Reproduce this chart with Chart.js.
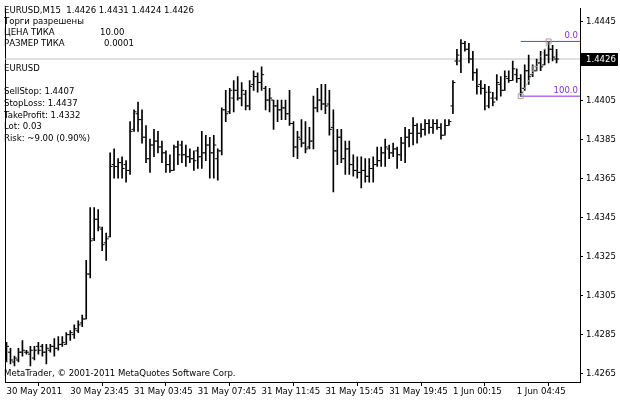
<!DOCTYPE html>
<html><head><meta charset="utf-8">
<script src="https://cdn.jsdelivr.net/npm/chart.js@4/dist/chart.umd.min.js"></script>
<style>html,body{margin:0;padding:0;background:#fff;}canvas{display:block;}</style>
</head><body>
<canvas id="c" width="620" height="400"></canvas>
<script>
// ---- data (EURUSD M15 OHLC bars, left to right) ----
const opens = [1.4275,1.4276,1.4271,1.4272,1.4276,1.4276,1.4275,1.4273,1.4279,1.4279,
1.4276,1.4277,1.4279,1.4278,1.4280,1.4280,1.4285,1.4285,1.4287,1.4291,
1.4293,1.4316,1.4334,1.4344,1.4339,1.4332,1.4335,1.4372,1.4371,1.4373,
1.4372,1.4369,1.4390,1.4398,1.4395,1.4386,1.4375,1.4382,1.4384,1.4381,
1.4378,1.4372,1.4369,1.4381,1.4382,1.4377,1.4376,1.4375,1.4379,1.4376,
1.4378,1.4382,1.4378,1.4375,1.4379,1.4400,1.4399,1.4406,1.4410,1.4406,
1.4408,1.4402,1.4413,1.4417,1.4414,1.4411,1.4405,1.4405,1.4402,1.4400,
1.4401,1.4398,1.4393,1.4381,1.4385,1.4383,1.4381,1.4384,1.4401,1.4405,
1.4403,1.4403,1.4391,1.4379,1.4386,1.4375,1.4380,1.4372,1.4369,1.4368,
1.4369,1.4366,1.4370,1.4372,1.4374,1.4378,1.4380,1.4378,1.4380,1.4377,
1.4383,1.4386,1.4388,1.4392,1.4388,1.4390,1.4393,1.4391,1.4393,1.4391,
1.4387,1.4392,1.4402,1.4425,1.4425,1.4434,1.4431,1.4426,1.4419,1.4413,
1.4411,1.4402,1.4406,1.4406,1.4413,1.4410,1.4416,1.4415,1.4418,1.4416,
1.4411,1.4420,1.4418,1.4420,1.4424,1.4423,1.4428,1.4431,1.4426];
const highs = [1.4281,1.4278,1.4274,1.4278,1.4282,1.4277,1.4279,1.4279,1.4281,1.4280,
1.4280,1.4280,1.4283,1.4284,1.4284,1.4286,1.4287,1.4290,1.4292,1.4295,
1.4323,1.4350,1.4350,1.4349,1.4340,1.4337,1.4378,1.4380,1.4375,1.4376,
1.4374,1.4394,1.4400,1.4404,1.4400,1.4392,1.4385,1.4390,1.4389,1.4384,
1.4379,1.4377,1.4382,1.4384,1.4384,1.4382,1.4380,1.4379,1.4381,1.4389,
1.4387,1.4386,1.4387,1.4380,1.4401,1.4410,1.4411,1.4415,1.4417,1.4414,
1.4410,1.4415,1.4420,1.4419,1.4422,1.4412,1.4411,1.4405,1.4405,1.4405,
1.4405,1.4410,1.4394,1.4389,1.4395,1.4394,1.4391,1.4407,1.4411,1.4413,
1.4413,1.4410,1.4400,1.4390,1.4390,1.4384,1.4384,1.4377,1.4376,1.4376,
1.4375,1.4375,1.4376,1.4381,1.4381,1.4385,1.4382,1.4383,1.4381,1.4386,
1.4391,1.4390,1.4396,1.4393,1.4393,1.4395,1.4395,1.4395,1.4395,1.4393,
1.4395,1.4395,1.4415,1.4431,1.4436,1.4435,1.4434,1.4430,1.4421,1.4415,
1.4413,1.4412,1.4409,1.4418,1.4417,1.4420,1.4420,1.4425,1.4421,1.4418,
1.4423,1.4428,1.4423,1.4426,1.4430,1.4431,1.4435,1.4433,1.4431];
const lows = [1.4271,1.4270,1.4269,1.4271,1.4274,1.4275,1.4269,1.4272,1.4275,1.4274,
1.4270,1.4276,1.4274,1.4277,1.4279,1.4280,1.4282,1.4283,1.4286,1.4289,
1.4293,1.4314,1.4333,1.4338,1.4328,1.4323,1.4335,1.4365,1.4365,1.4365,
1.4363,1.4367,1.4389,1.4389,1.4383,1.4373,1.4368,1.4376,1.4378,1.4373,
1.4368,1.4368,1.4369,1.4372,1.4373,1.4371,1.4373,1.4369,1.4370,1.4370,
1.4374,1.4365,1.4365,1.4364,1.4377,1.4394,1.4398,1.4399,1.4405,1.4402,
1.4400,1.4400,1.4410,1.4409,1.4410,1.4400,1.4399,1.4390,1.4394,1.4395,
1.4395,1.4392,1.4376,1.4375,1.4381,1.4378,1.4380,1.4380,1.4399,1.4400,
1.4398,1.4387,1.4358,1.4372,1.4373,1.4367,1.4367,1.4366,1.4365,1.4360,
1.4363,1.4363,1.4363,1.4371,1.4371,1.4371,1.4375,1.4376,1.4370,1.4374,
1.4373,1.4381,1.4382,1.4383,1.4386,1.4387,1.4388,1.4388,1.4390,1.4385,
1.4387,1.4392,1.4398,1.4423,1.4419,1.4430,1.4424,1.4415,1.4408,1.4408,
1.4400,1.4401,1.4402,1.4405,1.4407,1.4410,1.4414,1.4415,1.4414,1.4407,
1.4410,1.4413,1.4417,1.4420,1.4420,1.4423,1.4424,1.4425,1.4424];
const closes = [1.4279,1.4272,1.4273,1.4276,1.4277,1.4276,1.4277,1.4277,1.4277,1.4276,
1.4278,1.4279,1.4278,1.4280,1.4281,1.4285,1.4286,1.4288,1.4290,1.4293,
1.4316,1.4333,1.4344,1.4340,1.4331,1.4334,1.4371,1.4371,1.4373,1.4370,
1.4369,1.4389,1.4399,1.4395,1.4386,1.4375,1.4382,1.4384,1.4381,1.4378,
1.4372,1.4369,1.4381,1.4377,1.4377,1.4376,1.4375,1.4374,1.4376,1.4378,
1.4382,1.4378,1.4382,1.4379,1.4400,1.4398,1.4410,1.4410,1.4406,1.4410,
1.4402,1.4412,1.4417,1.4414,1.4418,1.4405,1.4406,1.4402,1.4400,1.4401,
1.4398,1.4393,1.4381,1.4386,1.4383,1.4380,1.4384,1.4401,1.4405,1.4403,
1.4402,1.4390,1.4379,1.4386,1.4375,1.4380,1.4372,1.4369,1.4368,1.4369,
1.4366,1.4370,1.4372,1.4374,1.4378,1.4381,1.4378,1.4380,1.4377,1.4383,
1.4386,1.4388,1.4392,1.4388,1.4390,1.4393,1.4391,1.4393,1.4391,1.4387,
1.4392,1.4394,1.4414,1.4428,1.4434,1.4431,1.4426,1.4419,1.4412,1.4411,
1.4409,1.4409,1.4404,1.4414,1.4410,1.4417,1.4415,1.4421,1.4416,1.4409,
1.4420,1.4417,1.4420,1.4424,1.4422,1.4428,1.4431,1.4427,1.4426];

const priceTicks = [1.4265,1.4285,1.4305,1.4325,1.4345,1.4365,1.4385,1.4405,1.4425,1.4445];
const timeTickIndex = [0,16,32,48,64,80,96,112,128];
const timeTickLabels = ['30 May 2011','30 May 23:45','31 May 03:45','31 May 07:45','31 May 11:45','31 May 15:45','31 May 19:45','1 Jun 00:15','1 Jun 04:45'];

const currentPrice = 1.4426;
const fibLevels = ['0.0','100.0'];
const fibPrices = [1.4435, 1.4407];
const fibIndex = [136, 129];

const headerLines = ['EURUSD,M15  1.4426 1.4431 1.4424 1.4426','Торги разрешены'];
const tickInfoNames = ['ЦЕНА ТИКА','РАЗМЕР ТИКА'];
const tickInfoValues = ['10.00','0.0001'];
const orderLines = ['SellStop: 1.4407','StopLoss: 1.4437','TakeProfit: 1.4332','Lot: 0.03','Risk: ~9.00 (0.90%)'];
const symbolName = 'EURUSD';
const copyright = 'MetaTrader, © 2001-2011 MetaQuotes Software Corp.';

// ---- chart ----
const FONT_FAMILY = '"DejaVu Sans Condensed", "DejaVu Sans", sans-serif';
const FONT_SIZE = 9.5;
const FONT = FONT_SIZE + 'px ' + FONT_FAMILY;

const rangeData = opens.map((o, i) => ({x: i, y: [lows[i], highs[i]]}));
const openData = opens.map((o, i) => ({x: i - 0.375, y: o}));
const closeData = closes.map((c, i) => ({x: i + 0.375, y: c}));

const textPlugin = {
  id: 'mtText',
  afterDraw(chart) {
    const ctx = chart.ctx, ys = chart.scales.y, a = chart.chartArea;
    ctx.save();
    ctx.font = FONT;
    ctx.textBaseline = 'middle';
    ctx.textAlign = 'left';
    ctx.fillStyle = '#000';
    ctx.fillText(headerLines[0], 4, 11);
    ctx.fillText(headerLines[1], 4, 22);
    ctx.fillText(tickInfoNames[0], 4, 33);
    ctx.fillText(tickInfoValues[0], 100, 33);
    ctx.fillText(tickInfoNames[1], 4, 44);
    ctx.fillText(tickInfoValues[1], 104, 44);
    ctx.fillText(symbolName, 4, 69);
    orderLines.forEach((t, i) => ctx.fillText(t, 4, 92 + i * 11.6));
    ctx.fillText(copyright, 4, 374);
    // current price box
    const py = Math.floor(ys.getPixelForValue(currentPrice));
    ctx.fillStyle = '#000';
    ctx.fillRect(a.right + 1, py - 6, 37, 13);
    ctx.fillStyle = '#fff';
    ctx.fillText(currentPrice.toFixed(4), a.right + 6, py + 0.5);
    // fib labels
    ctx.fillStyle = '#8a2be2';
    ctx.textAlign = 'right';
    fibLevels.forEach((t, i) => {
      ctx.fillText(t, a.right - 2, ys.getPixelForValue(fibPrices[i]) - 6);
    });
    ctx.restore();
  }
};

new Chart(document.getElementById('c'), {
  type: 'bar',
  data: {
    datasets: [
      { type: 'scatter', order: 0, yAxisID: 'y',
        data: [{x: fibIndex[1], y: fibPrices[1]}, {x: (fibIndex[0] + fibIndex[1]) / 2, y: (fibPrices[0] + fibPrices[1]) / 2}, {x: fibIndex[0], y: fibPrices[0]}],
        showLine: true, borderColor: '#b0b0b0', borderWidth: 1, borderDash: [2, 2],
        pointStyle: 'rect', pointRadius: 3.5, pointBorderColor: '#a0a0a0', pointBackgroundColor: 'rgba(0,0,0,0)', pointBorderWidth: 1 },
      { type: 'scatter', order: 1, yAxisID: 'y', data: openData,
        pointStyle: 'line', pointRadius: 1, pointBorderWidth: 1, borderColor: '#000', backgroundColor: '#000' },
      { type: 'scatter', order: 1, yAxisID: 'y', data: closeData,
        pointStyle: 'line', pointRadius: 1, pointBorderWidth: 1, borderColor: '#000', backgroundColor: '#000' },
      { type: 'bar', order: 2, yAxisID: 'y', data: rangeData,
        backgroundColor: '#000', borderWidth: 0, barThickness: 1 },
      { type: 'line', order: 3, yAxisID: 'y',
        data: [{x: fibIndex[1], y: fibPrices[0]}, {x: 200, y: fibPrices[0]}],
        borderColor: '#8a2be2', borderWidth: 1, pointRadius: 0 },
      { type: 'line', order: 3, yAxisID: 'y',
        data: [{x: fibIndex[1], y: fibPrices[1]}, {x: 200, y: fibPrices[1]}],
        borderColor: '#8a2be2', borderWidth: 1, pointRadius: 0 },
      { type: 'line', order: 4, yAxisID: 'y',
        data: [{x: -5, y: currentPrice}, {x: 200, y: currentPrice}],
        borderColor: '#c0c0c0', borderWidth: 1, pointRadius: 0 }
    ]
  },
  options: {
    responsive: false,
    animation: false,
    devicePixelRatio: 1,
    layout: { padding: 0 },
    plugins: { legend: { display: false }, tooltip: { enabled: false } },
    scales: {
      x: {
        type: 'linear', position: 'bottom', min: -0.375, max: 143.875, offset: false,
        afterBuildTicks: s => { s.ticks = timeTickIndex.map(v => ({value: v})); },
        afterFit: s => { s.height = 18; },
        grid: { display: true, drawOnChartArea: false, drawTicks: true, tickLength: 4, tickColor: '#000', color: '#000' },
        border: { display: true, color: '#000', width: 1 },
        ticks: { autoSkip: false, maxRotation: 0, minRotation: 0, align: 'start', padding: 0,
          color: '#000', font: { family: FONT_FAMILY, size: FONT_SIZE },
          callback: v => timeTickLabels[timeTickIndex.indexOf(v)] }
      },
      y: {
        type: 'linear', position: 'right', min: 1.426075, max: 1.445175,
        afterBuildTicks: s => { s.ticks = priceTicks.map(v => ({value: v})); },
        afterFit: s => { s.width = 40; },
        grid: { display: true, drawOnChartArea: false, drawTicks: true, tickLength: 3, tickColor: '#000' },
        border: { display: true, color: '#000', width: 1 },
        ticks: { padding: 3, color: '#000', font: { family: FONT_FAMILY, size: FONT_SIZE },
          callback: v => Number(v).toFixed(4) }
      },
      yl: {
        type: 'linear', position: 'left', display: true,
        afterFit: s => { s.width = 3; },
        grid: { display: false },
        border: { display: true, color: '#000', width: 1 },
        ticks: { display: false }
      }
    }
  },
  plugins: [textPlugin]
});
</script>
</body></html>
